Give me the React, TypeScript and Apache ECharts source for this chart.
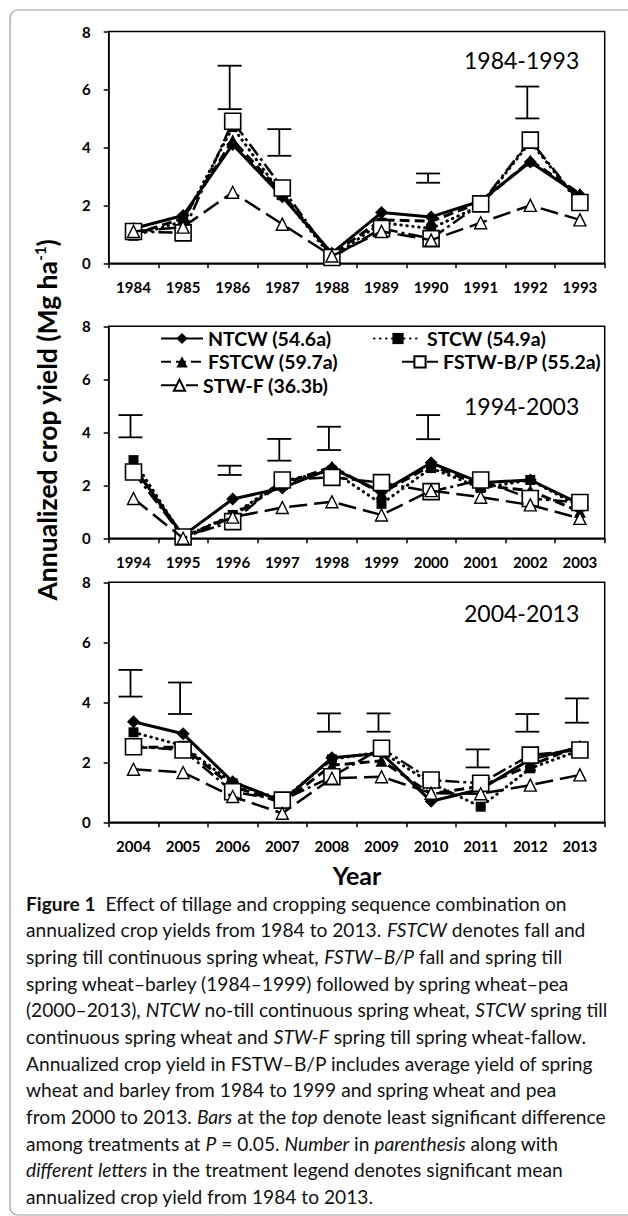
import React, { useEffect, useRef } from 'react';
import * as echarts from 'echarts';

const years = [
  '1984', '1985', '1986', '1987', '1988', '1989', '1990', '1991', '1992', '1993',
  '1994', '1995', '1996', '1997', '1998', '1999', '2000', '2001', '2002', '2003',
  '2004', '2005', '2006', '2007', '2008', '2009', '2010', '2011', '2012', '2013',
];

const ntcw = [
  1.2, 1.65, 4.1, 2.3, 0.35, 1.75, 1.6, 2.15, 3.5, 2.35,
  2.7, 0.1, 1.48, 1.9, 2.65, 1.75, 2.85, 2.1, 2.2, 1.3,
  3.35, 2.95, 1.35, 0.7, 2.15, 2.3, 0.7, 1.1, 2.1, 2.5,
];
const stcw = [
  0.95, 1.45, 4.7, 2.35, 0.2, 1.4, 1.2, 2.0, 4.2, 2.05,
  2.95, 0.05, 0.88, 2.15, 2.55, 1.3, 2.65, 1.9, 2.2, 1.2,
  3.0, 2.55, 1.3, 0.75, 2.1, 2.35, 1.3, 0.52, 1.8, 2.4,
];
const fstcw = [
  1.0, 1.55, 4.25, 2.4, 0.3, 1.5, 1.45, 2.1, 3.55, 2.4,
  2.7, 0.05, 0.85, 2.05, 2.7, 1.7, 2.75, 2.0, 1.8, 1.0,
  2.5, 2.5, 1.2, 0.65, 1.9, 2.05, 0.95, 1.2, 1.9, 2.55,
];
const fstwbp = [
  1.1, 1.05, 4.9, 2.6, 0.2, 1.2, 0.85, 2.05, 4.25, 2.1,
  2.5, 0.05, 0.63, 2.2, 2.3, 2.1, 1.76, 2.2, 1.5, 1.35,
  2.52, 2.41, 1.02, 0.74, 1.52, 2.47, 1.41, 1.3, 2.24, 2.41,
];
const stwf = [
  1.1, 1.25, 2.45, 1.35, 0.25, 1.1, 0.8, 1.4, 2.0, 1.5,
  1.5, 0.0, 0.8, 1.16, 1.38, 0.88, 1.8, 1.55, 1.26, 0.75,
  1.77, 1.66, 0.86, 0.3, 1.47, 1.52, 0.97, 0.95, 1.24, 1.58,
];

const lsdYears = ['1986', '1987', '1990', '1992', '1994', '1996', '1997', '1998', '2000', '2004', '2005', '2008', '2009', '2011', '2012', '2013'];
const lsdLow = [5.32, 3.71, 2.78, 5.0, 3.81, 2.39, 2.93, 3.33, 3.74, 4.19, 3.61, 3.02, 3.02, 1.83, 3.02, 3.32];
const lsdHigh = [6.82, 4.63, 3.1, 6.1, 4.65, 2.74, 3.75, 4.21, 4.65, 5.08, 4.66, 3.63, 3.63, 2.43, 3.61, 4.13];

const seriesNames = ['NTCW (54.6a)', 'STCW (54.9a)', 'FSTCW (59.7a)', 'FSTW-B/P (55.2a)', 'STW-F (36.3b)'];
const seriesValues = [ntcw, stcw, fstcw, fstwbp, stwf];
const panelTitles = ['1984-1993', '1994-2003', '2004-2013'];
const yAxisTitle = 'Annualized crop yield (Mg ha{sup|-1})';
const xAxisTitle = 'Year';

const captionLines = [
  '{b|Figure 1}  Effect of tillage and cropping sequence combination on',
  'annualized crop yields from 1984 to 2013. {i|FSTCW} denotes fall and',
  'spring till continuous spring wheat, {i|FSTW–B/P} fall and spring till',
  'spring wheat–barley (1984–1999) followed by spring wheat–pea',
  '(2000–2013), {i|NTCW} no-till continuous spring wheat, {i|STCW} spring till',
  'continuous spring wheat and {i|STW-F} spring till spring wheat-fallow.',
  'Annualized crop yield in FSTW–B/P includes average yield of spring',
  'wheat and barley from 1984 to 1999 and spring wheat and pea',
  'from 2000 to 2013. {i|Bars} at the {i|top} denote least significant difference',
  'among treatments at {i|P} = 0.05. {i|Number} in {i|parenthesis} along with',
  '{i|different letters} in the treatment legend denotes significant mean',
  'annualized crop yield from 1984 to 2013.',
];

const FONT = 'Lato';
const CAP_FONT = 'Lato';
const CAP_SIZE = 19;

const panels = [
  { top: 31.5, height: 231.8, titleY: 60 },
  { top: 326.3, height: 212, titleY: 406 },
  { top: 582.3, height: 240, titleY: 613 },
];
const GRID_LEFT = 108.7;
const GRID_WIDTH = 496;

const seriesStyles: any[] = [
  { symbol: 'diamond', symbolSize: 13, itemStyle: { color: '#000' }, lineStyle: { color: '#000', width: 3, type: 'solid' } },
  { symbol: 'rect', symbolSize: 10, itemStyle: { color: '#000' }, lineStyle: { color: '#000', width: 3, type: [0.5, 5.5], cap: 'round' } },
  { symbol: 'triangle', symbolSize: 12, itemStyle: { color: '#000' }, lineStyle: { color: '#000', width: 3, type: [10, 5] } },
  { symbol: 'rect', symbolSize: 16, itemStyle: { color: '#fff', borderColor: '#000', borderWidth: 1.6 }, lineStyle: { color: '#000', width: 2.5, type: [14, 4, 3, 4] } },
  { symbol: 'triangle', symbolSize: 12, itemStyle: { color: '#fff', borderColor: '#000', borderWidth: 1.4 }, lineStyle: { color: '#000', width: 2.5, type: [18, 7] } },
];

const legendPos = [
  { left: 160, w: 42, cy: 340 },
  { left: 373, w: 48, cy: 340 },
  { left: 160, w: 42, cy: 363.3 },
  { left: 401, w: 36, cy: 363.3 },
  { left: 160, w: 37, cy: 386.7 },
];

export default function App() {
  const ref = useRef<HTMLDivElement>(null);
  useEffect(() => {
    const chart = echarts.init(ref.current!, null, { renderer: 'svg' });
    const axisLineStyle = { color: '#000', width: 1.5 };
    const grid = panels.map((p) => ({
      left: GRID_LEFT, top: p.top, width: GRID_WIDTH, height: p.height,
      show: true, borderColor: '#000', borderWidth: 1.5, backgroundColor: 'transparent',
    }));
    const xAxis = panels.map((p, i) => ({
      gridIndex: i, type: 'category', data: years.slice(i * 10, i * 10 + 10), boundaryGap: true,
      axisLine: { show: true, lineStyle: axisLineStyle },
      axisTick: { show: true, alignWithLabel: false, length: 5, lineStyle: axisLineStyle },
      axisLabel: { interval: 0, margin: 16, color: '#000', fontFamily: FONT, fontWeight: 'bold', fontSize: 15 },
      splitLine: { show: false },
    }));
    const yAxis = panels.map((p, i) => ({
      gridIndex: i, type: 'value', min: 0, max: 8, interval: 2,
      axisLine: { show: true, lineStyle: axisLineStyle },
      axisTick: { show: true, length: 5, lineStyle: axisLineStyle },
      axisLabel: { margin: 18, color: '#000', fontFamily: FONT, fontWeight: 'bold', fontSize: 15 },
      splitLine: { show: false },
    }));
    const series: any[] = [];
    panels.forEach((p, pi) => {
      seriesNames.forEach((name, si) => {
        series.push({
          type: 'line', name, xAxisIndex: pi, yAxisIndex: pi,
          data: seriesValues[si].slice(pi * 10, pi * 10 + 10),
          ...seriesStyles[si], z: 2 + si,
        });
      });
      const pyears = years.slice(pi * 10, pi * 10 + 10);
      const lsdData: any[] = [];
      lsdYears.forEach((y, k) => {
        const idx = pyears.indexOf(y);
        if (idx >= 0) lsdData.push([idx, lsdLow[k], lsdHigh[k]]);
      });
      series.push({
        type: 'custom', name: 'LSD', xAxisIndex: pi, yAxisIndex: pi, z: 10,
        encode: { x: 0, y: [1, 2] },
        data: lsdData,
        renderItem: (params: any, api: any) => {
          const lo = api.coord([api.value(0), api.value(1)]);
          const hi = api.coord([api.value(0), api.value(2)]);
          const cx = lo[0] - 3;
          const half = 12;
          const st = { stroke: '#000', lineWidth: 1.8 };
          return {
            type: 'group',
            children: [
              { type: 'line', shape: { x1: cx, y1: hi[1], x2: cx, y2: lo[1] }, style: st },
              { type: 'line', shape: { x1: cx - half, y1: hi[1], x2: cx + half, y2: hi[1] }, style: st },
              { type: 'line', shape: { x1: cx - half, y1: lo[1], x2: cx + half, y2: lo[1] }, style: st },
            ],
          };
        },
      });
    });
    const legend = seriesNames.map((name, i) => ({
      data: [name], left: legendPos[i].left, top: legendPos[i].cy - 11.5, padding: 0,
      itemWidth: legendPos[i].w, itemHeight: 14, selectedMode: false,
      textStyle: { fontFamily: FONT, fontWeight: 'bold', fontSize: 19.5, color: '#000' },
    }));
    const richCap = {
      b: { fontFamily: CAP_FONT, fontSize: CAP_SIZE, fontWeight: 'bold', fill: '#111', color: '#111' },
      i: { fontFamily: CAP_FONT, fontSize: CAP_SIZE, fontStyle: 'italic', fill: '#111', color: '#111' },
    };
    const graphic: any[] = [
      { type: 'rect', shape: { x: 10, y: 10, width: 640, height: 1205, r: 8 }, style: { fill: 'none', stroke: '#9a9a9a', lineWidth: 1.2 }, z: -1 },
      {
        type: 'text', x: 47, y: 420, rotation: Math.PI / 2,
        style: {
          text: yAxisTitle, fontFamily: FONT, fontWeight: 'bold', fontSize: 26.5, fill: '#000',
          textAlign: 'center', textVerticalAlign: 'middle', align: 'center', verticalAlign: 'middle',
          rich: { sup: { fontFamily: FONT, fontWeight: 'bold', fontSize: 15, fill: '#000', verticalAlign: 'top', lineHeight: 30 } },
        },
      },
      {
        type: 'text', x: 357, y: 875,
        style: { text: xAxisTitle, fontFamily: FONT, fontWeight: 'bold', fontSize: 25, fill: '#000', textAlign: 'center', textVerticalAlign: 'middle', align: 'center', verticalAlign: 'middle' },
      },
      ...panels.map((p, i) => ({
        type: 'text', x: 464, y: p.titleY,
        style: { text: panelTitles[i], fontFamily: FONT, fontSize: 23, fill: '#000', textAlign: 'left', textVerticalAlign: 'middle', align: 'left', verticalAlign: 'middle' },
      })),
      ...captionLines.map((line, k) => ({
        type: 'text', x: 26, y: 903.3 + 26.67 * k, scaleX: 1.01,
        style: {
          text: line, fontFamily: CAP_FONT, fontSize: CAP_SIZE, fill: '#111',
          textAlign: 'left', textVerticalAlign: 'middle', align: 'left', verticalAlign: 'middle', rich: richCap,
        },
      })),
    ];
    chart.setOption({
      animation: false,
      backgroundColor: '#fff',
      grid, xAxis, yAxis, series, legend, graphic,
    });
    return () => chart.dispose();
  }, []);
  return <div ref={ref} style={{ position: 'absolute', left: 0, top: 0, width: 628, height: 1216 }} />;
}
